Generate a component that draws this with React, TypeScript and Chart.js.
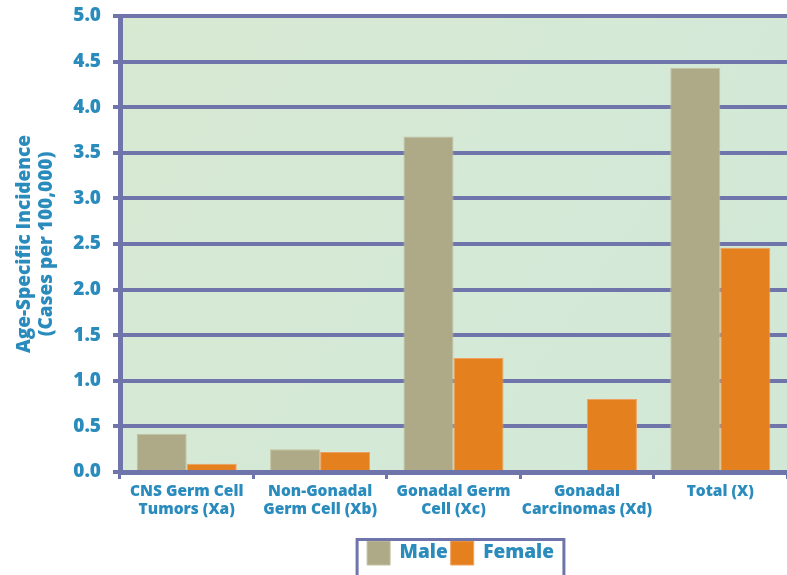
import React, { useEffect, useRef } from 'react';
import { Chart, registerables } from 'chart.js';
Chart.register(...registerables);

const categories: string[][] = [
  ['CNS Germ Cell', 'Tumors (Xa)'],
  ['Non-Gonadal', 'Germ Cell (Xb)'],
  ['Gonadal Germ', 'Cell (Xc)'],
  ['Gonadal', 'Carcinomas (Xd)'],
  ['Total (X)'],
];
const maleValues = [0.42, 0.25, 3.68, 0, 4.43];
const femaleValues = [0.09, 0.22, 1.25, 0.8, 2.46];
const seriesNames = ['Male', 'Female'];
const yTitle = ['Age-Specific Incidence', '(Cases per 100,000)'];

const TEXT = '#2a8bbd';
const GRID = '#6f74ab';
const MALE = '#aeaa87';
const FEMALE = '#e5801e';
const FONT = '"Open Sans", "Noto Sans", sans-serif';

const bgPlugin = {
  id: 'plotBg',
  beforeDraw(chart: any) {
    const { ctx, chartArea: a } = chart;
    const g = ctx.createLinearGradient(a.left, a.top, a.right, a.bottom);
    g.addColorStop(0, '#d8e9d2');
    g.addColorStop(0.5, '#d4e9d6');
    g.addColorStop(1, '#d2e8d6');
    ctx.save();
    ctx.fillStyle = g;
    ctx.fillRect(a.left, a.top, a.right - a.left, a.bottom - a.top);
    ctx.restore();
  },
};

const legendBoxPlugin = {
  id: 'legendBox',
  afterLayout(chart: any) {
    const lg = chart.legend;
    if (lg) { lg.left += 7; lg.right += 7; }
  },
  afterDraw(chart: any) {
    const lg = chart.legend;
    if (!lg || !lg.legendHitBoxes || !lg.legendHitBoxes.length) return;
    const boxes = lg.legendHitBoxes;
    const l = Math.min(...boxes.map((b: any) => b.left)) - 10;
    const r = Math.max(...boxes.map((b: any) => b.left + b.width)) + 10;
    const ctx = chart.ctx;
    ctx.save();
    ctx.strokeStyle = GRID;
    ctx.lineWidth = 3;
    ctx.strokeRect(l, lg.top + 1.5, r - l, 60);
    ctx.restore();
  },
};

export default function App() {
  const ref = useRef<HTMLCanvasElement>(null);
  useEffect(() => {
    document.body.style.margin = '0';
    const chart = new Chart(ref.current!, {
      type: 'bar',
      data: {
        labels: categories,
        datasets: [
          { label: seriesNames[0], data: maleValues, backgroundColor: MALE, borderColor: '#c4c2a2', borderWidth: 1 },
          { label: seriesNames[1], data: femaleValues, backgroundColor: FEMALE, borderColor: '#eea060', borderWidth: 1 },
        ],
      },
      plugins: [bgPlugin, legendBoxPlugin],
      options: {
        responsive: false,
        animation: false,
        devicePixelRatio: 1,
        layout: { padding: { top: 16, right: 0, left: 0, bottom: 0 } },
        datasets: { bar: { categoryPercentage: 0.75, barPercentage: 1 } },
        plugins: {
          tooltip: { enabled: false },
          legend: {
            position: 'bottom',
            fullSize: false,
            labels: {
              boxWidth: 23,
              boxHeight: 24,
              padding: 3,
              color: TEXT,
              font: { family: FONT, size: 19, weight: 800 },
            },
          },
        },
        scales: {
          x: {
            afterFit: (s: any) => { s.height = 66; },
            grid: { drawOnChartArea: false, drawTicks: true, tickLength: 7, lineWidth: 3, color: GRID, offset: true },
            border: { display: true, width: 5, color: GRID },
            ticks: { color: TEXT, padding: 4, font: { family: FONT, size: 15.5, weight: 800, lineHeight: 1.15 }, maxRotation: 0, autoSkip: false },
          },
          y: {
            min: 0,
            max: 5,
            afterFit: (s: any) => { s.width = 120; s.paddingTop = 0; s.paddingBottom = 0; },
            grid: { color: GRID, lineWidth: 4, tickLength: 7 },
            border: { display: true, width: 5, color: GRID },
            ticks: {
              stepSize: 0.5,
              color: TEXT,
              padding: 12,
              font: { family: FONT, size: 19, weight: 800 },
              callback: (v: any) => Number(v).toFixed(1),
            },
            title: {
              display: true,
              text: yTitle,
              color: TEXT,
              padding: { top: 14, bottom: 0 },
              font: { family: FONT, size: 19, weight: 800, lineHeight: 1.16 },
            },
          },
        },
      },
    } as any);
    return () => chart.destroy();
  }, []);
  return (
    <div style={{ position: 'absolute', left: 0, top: 0, width: 787, height: 575 }}>
      <canvas ref={ref} width={787} height={575} style={{ display: 'block' }} />
    </div>
  );
}
